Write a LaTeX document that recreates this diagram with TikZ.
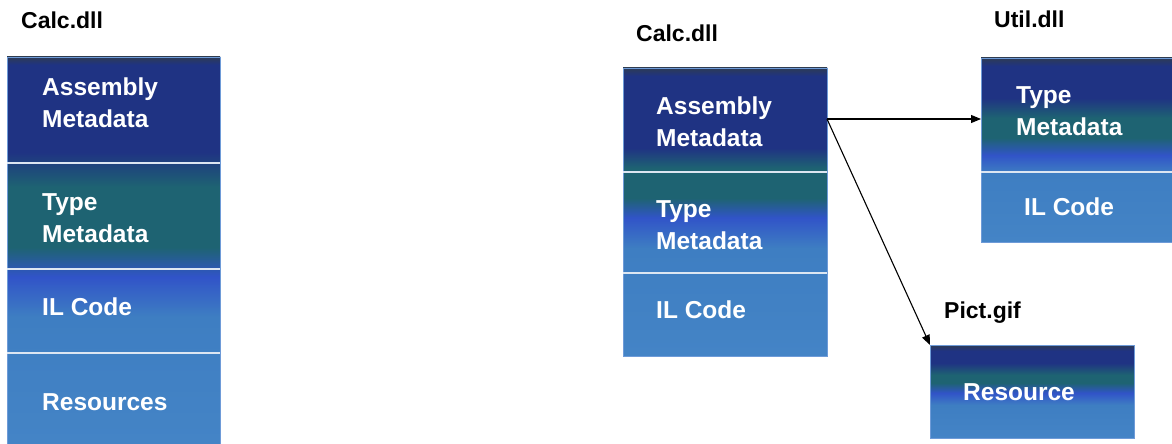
\documentclass[tikz,border=0pt]{standalone}
\usepackage{fontspec}
\setmainfont{Liberation Sans}
\usepackage{tikz}
\usetikzlibrary{arrows.meta}
\definecolor{topgray}{HTML}{2D3B55}
\definecolor{navyblk}{HTML}{1F3383}
\definecolor{tealblk}{HTML}{1E6372}
\definecolor{brblue}{HTML}{3154C8}
\definecolor{ltblue}{HTML}{3E7EC2}
\definecolor{ltblueb}{HTML}{4484C6}
\definecolor{sepline}{HTML}{DCE6F2}
\definecolor{edgeblue}{HTML}{6E9BD8}
% one shading per stack; the box is mapped onto 25bp--75bp
\pgfdeclareverticalshading{calcAshade}{100bp}{color(0bp)=(ltblueb); color(25bp)=(ltblueb); color(41.4bp)=(ltblue); color(46.6bp)=(brblue); color(50.4bp)=(tealblk); color(58.2bp)=(tealblk); color(62.7bp)=(navyblk); color(74bp)=(navyblk); color(75bp)=(topgray); color(100bp)=(topgray)}
\pgfdeclareverticalshading{calcBshade}{100bp}{color(0bp)=(ltblueb); color(25bp)=(ltblueb); color(43.7bp)=(ltblue); color(49bp)=(brblue); color(52.4bp)=(tealblk); color(57.6bp)=(tealblk); color(61.1bp)=(navyblk); color(73.6bp)=(navyblk); color(75bp)=(topgray); color(100bp)=(topgray)}
\pgfdeclareverticalshading{utilshade}{100bp}{color(0bp)=(ltblueb); color(25bp)=(ltblueb); color(43.7bp)=(ltblue); color(48.6bp)=(brblue); color(53.3bp)=(tealblk); color(58.7bp)=(tealblk); color(64.1bp)=(navyblk); color(72.8bp)=(navyblk); color(75bp)=(topgray); color(100bp)=(topgray)}
\pgfdeclareverticalshading{pictshade}{100bp}{color(0bp)=(ltblueb); color(25bp)=(ltblueb); color(42.7bp)=(ltblue); color(49.2bp)=(brblue); color(54.6bp)=(tealblk); color(58.9bp)=(tealblk); color(65.3bp)=(navyblk); color(71.8bp)=(navyblk); color(75bp)=(topgray); color(100bp)=(topgray)}
\tikzset{
  stackbox/.style={draw=edgeblue, line width=0.6pt, inner sep=0pt, outer sep=0pt, anchor=north west},
  sep/.style={draw=sepline, line width=1.4pt},
  intext/.style={text=white, font=\fontsize{24.5}{32}\selectfont\bfseries, align=left, inner sep=0pt},
  filename/.style={font=\fontsize{23}{28}\selectfont\bfseries, inner sep=0pt, anchor=base west},
  link/.style={-{Triangle[length=10pt,width=8pt]}, line width=1.1pt}
}
\begin{document}
\begin{tikzpicture}[x=1pt,y=-1pt]
  \useasboundingbox (0,0) rectangle (1172,444);
  % left: single file assembly
  \node[stackbox, shading=calcAshade, minimum width=213pt, minimum height=387pt] (calcA) at (7,57) {};
  \draw[sep] (calcA.west |- 0,163) -- (calcA.east |- 0,163);
  \draw[sep] (calcA.west |- 0,269) -- (calcA.east |- 0,269);
  \draw[sep] (calcA.west |- 0,353) -- (calcA.east |- 0,353);
  \node[filename] (calcAname) at (21,29) {Calc.dll};
  \node[intext, anchor=north west] (calcAasm) at (42,77.5) {Assembly\\Metadata};
  \node[intext, anchor=north west] (calcAtype) at (42,193) {Type\\Metadata};
  \node[intext, anchor=base west] (calcAil) at (42,315) {IL Code};
  \node[intext, anchor=base west] (calcAres) at (42,410) {Resources};
  % right: multi file assembly
  \node[stackbox, shading=calcBshade, minimum width=204pt, minimum height=288pt] (calcB) at (623,68) {};
  \draw[sep] (calcB.west |- 0,172) -- (calcB.east |- 0,172);
  \draw[sep] (calcB.west |- 0,273) -- (calcB.east |- 0,273);
  \node[filename] (calcBname) at (636,42) {Calc.dll};
  \node[intext, anchor=north west] (calcBasm) at (656,96.5) {Assembly\\Metadata};
  \node[intext, anchor=north west] (calcBtype) at (656,200) {Type\\Metadata};
  \node[intext, anchor=base west] (calcBil) at (656,318) {IL Code};
  \node[stackbox, shading=utilshade, minimum width=191pt, minimum height=184pt] (util) at (981,58) {};
  \draw[sep] (util.west |- 0,172) -- (util.east |- 0,172);
  \node[filename] (utilname) at (994,28) {Util.dll};
  \node[intext, anchor=north west] (utiltype) at (1016,86) {Type\\Metadata};
  \node[intext, anchor=base west] (utilil) at (1024,215) {IL Code};
  \node[stackbox, shading=pictshade, minimum width=204pt, minimum height=93pt] (pict) at (930,345) {};
  \node[filename] (pictname) at (944,318) {Pict.gif};
  \node[intext, anchor=base west] (pictres) at (963,400) {Resource};
  % references from the manifest
  \coordinate (manifest) at (calcB.east |- 0,119);
  \draw[link] (manifest) -- (manifest -| util.west);
  \draw[link] (manifest) -- (pict.north west);
\end{tikzpicture}
\end{document}
